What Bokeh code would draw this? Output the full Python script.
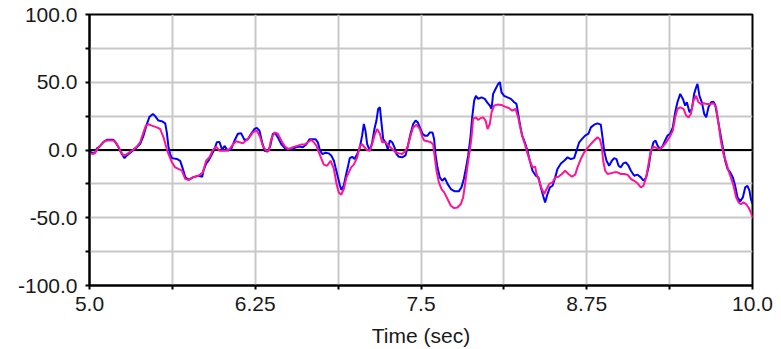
from bokeh.plotting import figure
from bokeh.models import Range1d, FixedTicker, Span
from bokeh.embed import file_html
from bokeh.resources import INLINE

# ---------------- data ----------------
t_blue = [5.000, 5.018, 5.043, 5.055, 5.080, 5.106, 5.131, 5.181, 5.194, 5.219,
          5.244, 5.264, 5.282, 5.307, 5.332, 5.357, 5.382, 5.407, 5.432, 5.453,
          5.478, 5.495, 5.520, 5.551, 5.571, 5.583, 5.596, 5.608, 5.621, 5.659,
          5.684, 5.701, 5.722, 5.747, 5.784, 5.822,
          5.850, 5.860, 5.880, 5.900, 5.918, 5.943, 5.960, 5.980, 6.001, 6.018,
          6.043, 6.068, 6.094, 6.119, 6.144, 6.169, 6.194, 6.219, 6.244, 6.262,
          6.282, 6.302, 6.320, 6.345, 6.363, 6.383, 6.403, 6.420, 6.446, 6.471,
          6.496, 6.521, 6.559, 6.584, 6.609, 6.634, 6.659,
          6.687, 6.704, 6.722, 6.737, 6.755, 6.780, 6.805, 6.823, 6.843, 6.855,
          6.873, 6.888, 6.900, 6.918, 6.936, 6.948, 6.963, 6.981, 6.999, 7.019,
          7.039, 7.056, 7.069, 7.081, 7.094, 7.114, 7.132, 7.149, 7.164, 7.177,
          7.190, 7.200, 7.215, 7.232, 7.250, 7.265, 7.283, 7.300, 7.315, 7.333,
          7.358, 7.383, 7.401, 7.421, 7.441, 7.459, 7.476, 7.496, 7.511,
          7.529, 7.549, 7.567, 7.587, 7.599, 7.609, 7.624, 7.642, 7.660, 7.680,
          7.700, 7.725, 7.755, 7.785, 7.805, 7.823, 7.838, 7.856, 7.873, 7.886,
          7.901, 7.914, 7.931, 7.956, 7.981, 7.999, 8.019, 8.032, 8.044, 8.062,
          8.082, 8.095, 8.107, 8.127, 8.152, 8.178, 8.203, 8.220, 8.233, 8.248,
          8.263, 8.283, 8.303, 8.321, 8.341,
          8.366, 8.386, 8.404, 8.421, 8.436, 8.454, 8.472, 8.492, 8.512, 8.529,
          8.555, 8.580, 8.605, 8.630, 8.655, 8.673, 8.693, 8.713, 8.738, 8.763,
          8.781, 8.806, 8.831, 8.856, 8.869, 8.881, 8.899, 8.919, 8.939, 8.957,
          8.974, 8.990, 9.007, 9.025, 9.045, 9.065, 9.083, 9.108, 9.133, 9.158,
          9.178,
          9.198, 9.216, 9.233, 9.253, 9.269, 9.284, 9.304, 9.324, 9.341, 9.359,
          9.379, 9.399, 9.417, 9.434, 9.455, 9.475, 9.492, 9.505, 9.525, 9.543,
          9.560, 9.575, 9.585, 9.600, 9.618, 9.636, 9.651, 9.668, 9.688, 9.706,
          9.719, 9.736, 9.756, 9.776, 9.794, 9.812, 9.832, 9.852, 9.869, 9.887,
          9.907, 9.927, 9.945, 9.962, 9.977, 9.988, 10.000]
v_blue = [-1, -2, -2, 1, 3, 6, 7.5, 7.5, 6, 2,
          -3, -6, -4, -2, 0, 2, 4.5, 10.5, 19, 24.6,
          26.6, 25, 21.7, 21, 19.7, 13, 2, -3, -6, -6.6,
          -8, -13, -20, -22, -20, -19,
          -19.7, -15, -10, -7.4, -4, 0.7, 5.7, 6, 0, 3,
          -0.5, 0.7, 7, 12, 12.3, 7.4, 8, 12, 15.5, 16.3,
          14.3, 5.7, -0.5, -1.2, 3, 12, 12, 9.4, 4.4, 1.5,
          0.7, 0.7, 2, 2.5, 2, 4, 8,
          8, 8, 5.7, 0, -3, -2, -2.5, -4, -7.9, -12.8,
          -20, -26, -29.5, -26, -17.7, -12.8, -6, -5, -6.7, -3,
          2, 10.6, 19.2, 14.3, 4.4, -0.5, 5.7, 15.5, 21.7, 30.3,
          31.5, 21.7, 8, 5.7, 0.7, 7, 5.7, 2, -3, -5,
          -5.4, -4, 3, 12, 19.2, 21.7, 20.4, 15.5, 12,
          10.6, 10.6, 13, 13, 8, -3, -12.8, -20.2, -22.7, -20.7,
          -25, -28.8, -30.5, -30.5, -27.6, -21.4, -14, -4, 9.4, 24,
          36.5, 40, 37.7, 38.9, 37.7, 35.2, 32.8, 30.3, 41.4, 45,
          48.8, 50, 42.6, 40, 38.9, 37.7, 35.2, 34, 26.6, 18,
          10.6, 5.7, -0.5, -7.9, -15.3,
          -19, -20.2, -27.6, -33.7, -38.7, -32.5, -27.6, -26.4, -20.2, -14,
          -9.9, -7.9, -5.4, -6.7, -6, -0.5, 5.7, 8, 10.6, 12,
          16.7, 18.7, 19.7, 18.7, 9.4, -0.5, -7.9, -11.6, -7.9, -6,
          -6.7, -11.6, -12.8, -9.9, -9.1, -11.6, -15.3, -19, -18.2, -20.2,
          -22.7,
          -20.2, -12.8, -1.7, 5.7, 7, 3.2, 0.7, 3.2, 7, 10.6,
          12, 16.7, 27.8, 35.2, 41.4, 37.7, 32.8, 35.2, 27.8, 30.3,
          41.4, 46.3, 48.8, 40, 35.2, 26.6, 24.1, 31.5, 35.2, 35.7,
          33.3, 24.1, 13, 2, -7.9, -14, -16.5, -20.2, -26.4, -35,
          -37.9, -35, -27.6, -26.4, -30, -36.2, -39.9]

t_pink = [5.000, 5.030, 5.055, 5.080, 5.106, 5.131, 5.181, 5.206, 5.231, 5.256,
          5.282, 5.319, 5.357, 5.382, 5.407, 5.425, 5.445, 5.470, 5.508, 5.533,
          5.558, 5.583, 5.596, 5.621, 5.646, 5.671, 5.696, 5.722, 5.747, 5.784,
          5.822,
          5.855, 5.880, 5.905, 5.930, 5.955, 5.980, 6.006, 6.031, 6.056, 6.081,
          6.106, 6.131, 6.156, 6.182, 6.207, 6.232, 6.262, 6.287, 6.307, 6.332,
          6.353, 6.370, 6.395, 6.420, 6.446, 6.471, 6.496, 6.521, 6.546, 6.571,
          6.596, 6.622, 6.647, 6.672,
          6.692, 6.712, 6.730, 6.747, 6.767, 6.792, 6.818, 6.843, 6.863, 6.880,
          6.898, 6.918, 6.938, 6.956, 6.973, 6.993, 7.019, 7.039, 7.056, 7.074,
          7.094, 7.114, 7.132, 7.149, 7.169, 7.190, 7.207, 7.232, 7.257, 7.283,
          7.308, 7.333, 7.358, 7.383, 7.401, 7.421, 7.441, 7.466, 7.491, 7.511,
          7.524, 7.549, 7.574, 7.592, 7.604, 7.617, 7.635, 7.655, 7.675, 7.700,
          7.725, 7.750, 7.775, 7.800, 7.818, 7.836, 7.851, 7.868, 7.881, 7.893,
          7.914, 7.931, 7.951, 7.969, 7.987, 8.002, 8.019, 8.032, 8.052, 8.077,
          8.107, 8.132, 8.162, 8.188, 8.213, 8.233, 8.248, 8.263, 8.283, 8.303,
          8.321, 8.341,
          8.361, 8.371, 8.391, 8.411, 8.429, 8.447, 8.467, 8.492, 8.512, 8.537,
          8.562, 8.587, 8.612, 8.638, 8.663, 8.680, 8.705, 8.731, 8.756, 8.781,
          8.806, 8.831, 8.849, 8.864, 8.874, 8.889, 8.907, 8.932, 8.957, 8.982,
          9.007, 9.032, 9.057, 9.083, 9.108, 9.133, 9.158, 9.178,
          9.198, 9.216, 9.233, 9.253, 9.274, 9.299, 9.324, 9.349, 9.374, 9.399,
          9.417, 9.434, 9.455, 9.480, 9.500, 9.517, 9.535, 9.555, 9.575, 9.593,
          9.610, 9.630, 9.656, 9.681, 9.706, 9.726, 9.744, 9.761, 9.781, 9.802,
          9.819, 9.837, 9.857, 9.877, 9.895, 9.912, 9.932, 9.952, 9.970, 9.988,
          10.000]
v_pink = [-2.5, -3, 0, 3, 6, 7, 7, 4.5, -0.5, -4,
          -3, -0.5, 2.5, 5.7, 13, 18, 19, 18, 16.7, 15.5,
          9.4, 0.7, -3, -9, -12.8, -14, -15, -21.4, -22, -20,
          -19,
          -16.5, -7.9, -5.4, 0, 2.5, -0.5, -0.5, -0.5, 0.7, 4,
          6.4, 5.7, 5, 7, 9.4, 13, 14.3, 9.4, 3, -0.5,
          -0.5, 8, 13, 12, 7, 3, 0.7, 1.5, 2.5, 3.2,
          4, 4, 5.7, 7.4,
          5.7, 3, -2, -6, -10.8, -11.6, -7.9, -14, -25, -31.3,
          -33, -28.8, -20.2, -16.5, -12.8, -10.8, -5.4, 3, 4.4, 2,
          0, -0.5, 4.4, 10.6, 15.5, 12, 5.7, 5.7, 3.2, 0.7,
          -1.7, -2.5, -3, -0.5, 3, 10.6, 16.7, 18.7, 15.5, 9.4,
          7, 6.4, 5.7, 4, -5.4, -15.3, -23.9, -28.8, -31.3, -36.2,
          -41.1, -42.9, -42.4, -39.9, -35, -22.7, -11.6, -0.5, 9.4, 22.9,
          24.1, 22.2, 23.6, 24.1, 21.7, 15.5, 19.2, 27.8, 32.8, 33.5,
          33.3, 32, 31, 29, 30.3, 24.1, 16.7, 10.6, 4.4, -2.5,
          -7.9, -12.8,
          -12.3, -17.7, -22.7, -28.8, -32.5, -28.8, -25, -23.9, -20.2, -19.7,
          -17.7, -15.3, -17.7, -19.7, -18.2, -12.8, -6.7, -1.7, 1.5, 4.4,
          7, 9.4, 8, 2, -7.9, -15.3, -17.7, -17.2, -16.5, -16.5,
          -17.7, -17.7, -18.2, -21.4, -22.7, -24.6, -27.6, -26.4,
          -20.2, -10.3, -0.5, 2.5, 1.5, 0.7, 2.5, 5.7, 9.4, 14.3,
          24.1, 30.3, 31.5, 30.3, 25.4, 24.1, 26.6, 36.5, 40, 35.2,
          34, 34.5, 34, 34, 34.5, 31.5, 19.2, 7, -3, -9.1,
          -15.3, -20.2, -26.4, -35, -38.7, -39.9, -38.7, -39.9, -42.4, -46.1,
          -49.8]

x_ticks = [5.0, 5.625, 6.25, 6.875, 7.5, 8.125, 8.75, 9.375, 10.0]
x_labels = ["5.0", "", "6.25", "", "7.5", "", "8.75", "", "10.0"]
y_ticks = [-100, -75, -50, -25, 0, 25, 50, 75, 100]
y_labels = ["-100.0", "", "-50.0", "", "0.0", "", "50.0", "", "100.0"]
x_title = "Time (sec)"

# ---------------- figure ----------------
FONT = "Liberation Sans"
FSIZE = "21px"
TXT = "#1a1a1a"
p = figure(width=781, height=349, output_backend="svg", toolbar_location=None,
           x_range=Range1d(5, 10), y_range=Range1d(-100, 100),
           min_border_left=89, min_border_right=29, min_border_top=14,
           min_border_bottom=63)
p.background_fill_color = "white"
p.border_fill_color = "white"
p.outline_line_color = "black"
p.outline_line_width = 2

p.xaxis.ticker = FixedTicker(ticks=x_ticks)
p.yaxis.ticker = FixedTicker(ticks=y_ticks)
p.xaxis.major_label_overrides = {t: l for t, l in zip(x_ticks, x_labels)}
p.yaxis.major_label_overrides = {t: l for t, l in zip(y_ticks, y_labels)}

for ax in (p.xaxis[0], p.yaxis[0]):
    ax.axis_line_color = "black"
    ax.axis_line_width = 2
    ax.major_tick_line_color = "black"
    ax.major_tick_line_width = 2
    ax.major_tick_out = 4
    ax.major_tick_in = 0
    ax.minor_tick_line_color = None
    ax.major_label_text_font = FONT
    ax.major_label_text_font_size = FSIZE
    ax.major_label_text_color = TXT
p.xaxis.major_label_standoff = 7
p.yaxis.major_label_standoff = 8

p.xaxis.axis_label = x_title
p.xaxis.axis_label_text_font = FONT
p.xaxis.axis_label_text_font_size = FSIZE
p.xaxis.axis_label_text_font_style = "normal"
p.xaxis.axis_label_text_color = TXT
p.xaxis.axis_label_standoff = 10

p.grid.grid_line_color = "#c8c8c8"
p.grid.grid_line_width = 2

zero = Span(location=0, dimension="width", line_color="black", line_width=2,
            level="underlay")
p.add_layout(zero)

p.line(t_blue, v_blue, line_color="#0000ff", line_width=2)
p.line(t_pink, v_pink, line_color="#ff1493", line_width=2)

open("out.html", "w").write(file_html(p, INLINE))
